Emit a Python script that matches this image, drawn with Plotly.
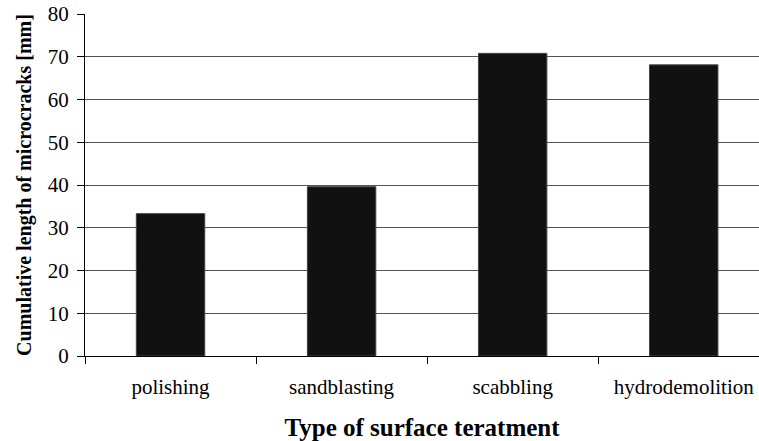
import plotly.graph_objects as go

categories = ["polishing", "sandblasting", "scabbling", "hydrodemolition"]
values = [33.3, 39.6, 70.8, 68.1]
y_ticks = [0, 10, 20, 30, 40, 50, 60, 70, 80]

fig = go.Figure(go.Bar(
    x=categories, y=values,
    marker=dict(color="#111111", line=dict(color="#444444", width=1)),
    width=0.4,
))

font_family = "Liberation Serif, Times New Roman, serif"

fig.update_layout(
    width=759, height=441,
    margin=dict(l=85, r=0, t=14, b=85, autoexpand=False),
    paper_bgcolor="white", plot_bgcolor="white",
    font=dict(family=font_family, color="black", size=21),
    showlegend=False,
    xaxis=dict(
        range=[-0.5, 3.44],
        automargin=False,
        showline=True, linecolor="black", linewidth=1,
        ticks="outside", tickson="boundaries", ticklen=7, tickcolor="black",
        showgrid=False,
        tickfont=dict(size=21),
        ticklabelstandoff=12,
        ticklabeloverflow="allow",
        title=dict(text="<b>Type of surface teratment</b>", font=dict(size=25), standoff=22),
    ),
    yaxis=dict(
        range=[0, 80], tickvals=y_ticks,
        automargin=False,
        showline=True, linecolor="black", linewidth=1,
        ticks="outside", ticklen=7, tickcolor="black",
        showgrid=True, gridcolor="#555555", gridwidth=1,
        zeroline=False,
        tickfont=dict(size=21),
        ticklabelstandoff=4,
        ticklabeloverflow="allow",
        title=dict(text="<b>Cumulative length of microcracks [mm]</b>", font=dict(size=20), standoff=10),
    ),
)

fig.write_html(
    "out.html",
    config={"displayModeBar": False},
    post_script="document.body.style.margin='0';document.body.style.overflow='hidden';",
)
